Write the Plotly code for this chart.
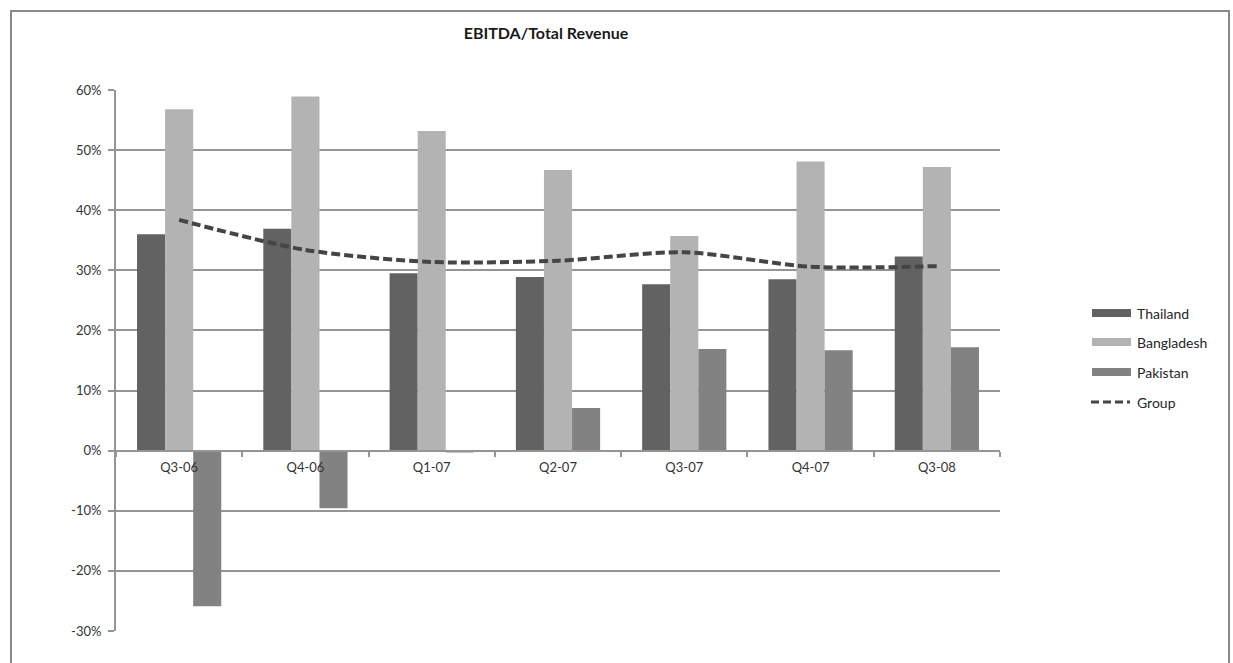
import plotly.graph_objects as go

# Quarterly EBITDA margin by country
quarters = ["Q3-06", "Q4-06", "Q1-07", "Q2-07", "Q3-07", "Q4-07", "Q3-08"]
thailand = [0.360, 0.369, 0.295, 0.289, 0.277, 0.285, 0.323]
bangladesh = [0.568, 0.589, 0.532, 0.467, 0.357, 0.481, 0.472]
pakistan = [-0.259, -0.096, -0.003, 0.071, 0.169, 0.167, 0.172]
group = [0.384, 0.334, 0.314, 0.316, 0.330, 0.306, 0.307]

y_ticks = [-0.3, -0.2, -0.1, 0.0, 0.1, 0.2, 0.3, 0.4, 0.5, 0.6]
y_labels = ["-30%", "-20%", "-10%", "0%", "10%", "20%", "30%", "40%", "50%", "60%"]

colors = {"Thailand": "#626262", "Bangladesh": "#b3b3b3", "Pakistan": "#828282"}
group_color = "#454545"
grid_color = "#959595"
font_family = "Lato, 'Open Sans', sans-serif"

W, H = 1233, 663
ML, MR, MT, MB = 116, 233, 90, 32
plot_w = W - ML - MR
plot_h = H - MT - MB


def px_x(px):
    return (px - ML) / plot_w


def px_y(py):
    return 1 - (py - MT) / plot_h


fig = go.Figure()
for name, vals in (("Thailand", thailand), ("Bangladesh", bangladesh), ("Pakistan", pakistan)):
    fig.add_trace(go.Bar(x=quarters, y=vals, name=name, marker=dict(color=colors[name], line=dict(width=0)),
                         showlegend=False))

fig.add_trace(go.Scatter(x=quarters, y=group, name="Group", mode="lines",
                         line=dict(color=group_color, width=4, dash="9px,4px", shape="spline", smoothing=0.8),
                         showlegend=False))

y_min, y_max = -0.3, 0.6
zero_pos = (0 - y_min) / (y_max - y_min)

shapes = [
    # outer chart frame
    dict(type="rect", xref="paper", yref="paper",
         x0=px_x(11), x1=px_x(1229), y0=px_y(700), y1=px_y(11),
         line=dict(color="#8a8a8a", width=2), fillcolor="rgba(0,0,0,0)", layer="below"),
]
annotations = []

# legend drawn as swatches + labels
legend_items = [("Thailand", 313), ("Bangladesh", 342), ("Pakistan", 372), ("Group", 402)]
for name, py in legend_items:
    if name == "Group":
        shapes.append(dict(type="line", xref="paper", yref="paper",
                           x0=px_x(1091), x1=px_x(1130), y0=px_y(py), y1=px_y(py),
                           line=dict(color=group_color, width=3, dash="8px,4px")))
    else:
        shapes.append(dict(type="rect", xref="paper", yref="paper",
                           x0=px_x(1092), x1=px_x(1131), y0=px_y(py + 4), y1=px_y(py - 4),
                           line=dict(width=0), fillcolor=colors[name]))
    annotations.append(dict(text=name, xref="paper", yref="paper", x=px_x(1135), y=px_y(py),
                            xanchor="left", yanchor="middle", showarrow=False,
                            font=dict(family=font_family, size=14, color="#262626")))

fig.update_layout(
    width=W, height=H,
    margin=dict(l=ML, r=MR, t=MT, b=MB),
    paper_bgcolor="white", plot_bgcolor="white",
    barmode="group", bargap=0.333, bargroupgap=0,
    title=dict(text="<b>EBITDA/Total Revenue</b>", xref="container", x=546 / W, xanchor="center",
               yref="container", y=1 - 33 / H, yanchor="middle",
               font=dict(family=font_family, size=16, color="#1a1a1a")),
    font=dict(family=font_family, size=13, color="#333333"),
    shapes=shapes, annotations=annotations,
    xaxis=dict(type="category", anchor="free", position=zero_pos,
               showline=True, linecolor=grid_color, linewidth=2,
               ticks="outside", tickson="boundaries", ticklen=5, tickcolor=grid_color, tickwidth=1.5,
               ticklabelstandoff=5,
               showgrid=False, tickfont=dict(family=font_family, size=13, color="#333333")),
    yaxis=dict(range=[y_min, y_max], tickvals=y_ticks, ticktext=y_labels,
               showgrid=True, gridcolor=grid_color, gridwidth=2, zeroline=False,
               showline=True, linecolor=grid_color, linewidth=2,
               ticks="outside", ticklen=6, tickcolor=grid_color, tickwidth=2,
               ticklabelstandoff=4,
               tickfont=dict(family=font_family, size=13, color="#333333")),
)

fig.write_html("out.html")
